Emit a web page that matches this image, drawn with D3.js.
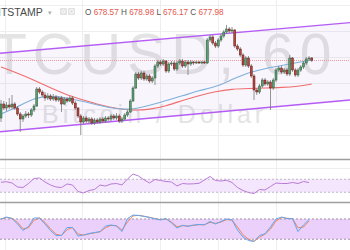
<!DOCTYPE html>
<html>
<head>
<meta charset="utf-8">
<script src="https://cdn.jsdelivr.net/npm/d3@7"></script>
<style>
  html, body { margin: 0; padding: 0; background: #fff; overflow: hidden; }
  svg { display: block; }
</style>
</head>
<body>
<div id="chart"></div>
<script>
// hourly candles, BTCUSD on Bitstamp
var opens = [672.2, 673.6, 673.2, 673.5, 673.3, 673.6, 673.2, 672.6, 672.1, 672.4, 672.6, 672.5, 673.0, 673.4, 675.1, 674.8, 674.5, 674.2, 674.4, 674.1, 674.3, 674.0, 674.2, 673.6, 674.1, 673.9, 674.2, 673.7, 673.2, 672.4, 671.8, 672.2, 671.9, 672.1, 671.7, 672.0, 671.8, 672.1, 671.9, 672.2, 672.1, 672.4, 672.2, 672.4, 671.9, 672.1, 672.5, 672.8, 673.9, 675.2, 676.6, 676.2, 676.7, 676.1, 676.4, 675.9, 676.2, 677.4, 677.8, 677.6, 677.9, 676.9, 677.6, 677.7, 677.1, 677.7, 677.9, 677.4, 677.8, 677.6, 677.8, 677.7, 677.8, 677.75, 677.8, 677.7, 680.0, 680.3, 679.7, 679.4, 680.0, 680.4, 680.8, 681.1, 680.9, 681.0, 679.4, 679.1, 678.5, 677.5, 678.2, 677.4, 676.4, 675.0, 674.8, 675.4, 676.0, 675.6, 675.8, 675.2, 676.0, 677.0, 677.2, 676.8, 677.0, 676.6, 678.2, 677.0, 676.5, 677.0, 677.3, 677.7, 678.1, 678.2]
var closes = [673.6, 673.2, 673.5, 673.3, 673.6, 673.2, 672.6, 672.1, 672.4, 672.6, 672.5, 673.0, 673.4, 675.1, 674.8, 674.5, 674.2, 674.4, 674.1, 674.3, 674.0, 674.2, 673.6, 674.1, 673.9, 674.2, 673.7, 673.2, 672.4, 671.8, 672.2, 671.9, 672.1, 671.7, 672.0, 671.8, 672.1, 671.9, 672.2, 672.1, 672.4, 672.2, 672.4, 671.9, 672.1, 672.5, 672.8, 673.9, 675.2, 676.6, 676.2, 676.7, 676.1, 676.4, 675.9, 676.2, 677.4, 677.8, 677.6, 677.9, 676.9, 677.6, 677.7, 677.1, 677.7, 677.9, 677.4, 677.8, 677.6, 677.8, 677.7, 677.8, 677.75, 677.8, 677.7, 680.0, 680.3, 679.7, 679.4, 680.0, 680.4, 680.8, 681.1, 680.9, 681.0, 679.4, 679.1, 678.5, 677.5, 678.2, 677.4, 676.4, 675.0, 674.8, 675.4, 676.0, 675.6, 675.8, 675.2, 676.0, 677.0, 677.2, 676.8, 677.0, 676.6, 678.2, 677.0, 676.5, 677.0, 677.3, 677.7, 678.1, 678.2, 677.98]
var highs = [674.0, 673.9, 673.8, 674.2, 674.5, 673.8, 673.4, 672.8, 672.6, 672.9, 672.8, 673.2, 673.6, 675.3, 675.3, 675.0, 674.8, 674.7, 674.6, 674.6, 674.5, 674.4, 674.4, 674.3, 674.3, 674.4, 674.4, 673.9, 673.3, 672.6, 672.4, 672.4, 672.3, 672.3, 672.2, 672.2, 672.3, 672.3, 672.4, 672.4, 672.6, 672.6, 672.7, 672.6, 672.3, 672.7, 673.0, 674.1, 675.4, 676.8, 676.8, 676.9, 676.9, 676.6, 676.6, 676.4, 677.6, 678.0, 678.0, 678.1, 678.0, 677.8, 677.9, 677.9, 677.9, 678.1, 678.1, 678.0, 678.0, 678.0, 677.9, 677.9, 677.9, 677.9, 677.9, 680.2, 680.5, 680.5, 679.9, 680.2, 680.6, 681.0, 681.5, 681.3, 681.3, 681.1, 679.6, 679.3, 678.7, 678.4, 678.4, 677.6, 676.6, 675.2, 675.6, 676.2, 676.2, 676.0, 676.0, 676.2, 677.2, 677.4, 677.4, 677.2, 677.2, 678.5, 678.3, 677.2, 677.2, 677.5, 677.9, 678.3, 678.4, 678.3]
var lows = [671.8, 673.0, 672.9, 673.1, 673.1, 673.0, 672.4, 670.8, 671.8, 672.2, 672.2, 672.3, 672.8, 673.3, 674.6, 674.3, 673.9, 674.0, 673.9, 673.9, 673.8, 673.8, 672.8, 673.5, 673.7, 673.8, 673.5, 673.0, 672.2, 670.5, 671.6, 671.7, 671.7, 671.5, 671.5, 671.6, 671.6, 671.7, 671.7, 671.9, 671.9, 672.0, 672.0, 671.7, 671.7, 672.0, 672.3, 672.7, 673.8, 675.1, 676.0, 676.0, 675.9, 675.9, 675.7, 675.7, 675.5, 677.2, 677.4, 677.4, 676.7, 676.7, 677.4, 676.9, 676.9, 677.5, 677.2, 677.2, 676.5, 677.4, 677.5, 677.6, 677.6, 677.6, 677.6, 677.6, 679.8, 679.5, 679.2, 679.2, 679.8, 680.2, 680.6, 680.7, 680.7, 679.2, 678.9, 678.3, 677.3, 677.3, 677.2, 676.2, 674.0, 674.5, 674.6, 675.2, 675.4, 675.4, 673.0, 675.0, 675.8, 676.8, 676.6, 676.6, 676.4, 676.4, 676.8, 676.3, 676.3, 676.8, 677.1, 677.5, 677.9, 677.8]

// moving averages, read every 6th candle
var maIdx = [0, 6, 12, 18, 24, 30, 36, 42, 48, 54, 60, 66, 72, 78, 84, 90, 96, 102, 108, 113]
var maSlow = [677.3, 676.7, 676.0, 675.2, 674.5, 674.0, 673.5, 673.15, 672.95, 673.05, 673.4, 673.95, 674.45, 674.85, 675.1, 675.15, 675.2, 675.25, 675.35, 675.6]
var maFast = [672.6, 673.3, 674.2, 674.45, 674.2, 673.85, 673.45, 673.1, 673.05, 673.45, 673.95, 674.4, 674.95, 675.3, 676.05, 676.75, 677.15, 677.45, 677.75, 678.0]

// trend channel: price at first and last candle
var channelUpper = [678.68, 681.4]
var channelLower = [670.84, 673.65]

// RSI and stochastic, every 2nd candle
var rsi = [60.6, 62.5, 58.5, 46.2, 44.6, 56.9, 72.3, 73.8, 61.5, 52.3, 46.2, 44.6, 55.4, 52.3, 32.3, 27.7, 35.4, 38.5, 52.3, 49.2, 55.4, 56.9, 52.3, 70.8, 86.2, 80, 68.3, 58.5, 69.2, 66.2, 63.1, 61.5, 49.2, 56.9, 55.4, 56, 57.5, 67.7, 78.5, 66.2, 64.6, 66.8, 60, 44.6, 35.4, 29.2, 26.2, 38.5, 36.9, 47.7, 58.5, 56.9, 56.9, 60, 56.9, 63.1, 60]
var stochK = [79.8, 85.7, 81.3, 65, 45.8, 57.6, 82.8, 82.8, 65, 45.8, 31, 31, 54.7, 54.7, 29.6, 32.5, 36.9, 39.9, 42.3, 59.1, 62.1, 59.1, 42.9, 81.3, 91.6, 90.2, 87.8, 84.2, 80.4, 76.9, 81.3, 68, 53.2, 61.2, 58.2, 62.1, 63.6, 62.7, 72.4, 65, 72.4, 79.8, 76.9, 47.3, 26.6, 16.3, 13.3, 31, 36.1, 56.2, 79.8, 85.7, 81.3, 80.7, 42.9, 62.1, 78.3]
var stochD = [80, 84, 82, 70, 51, 54, 76, 83, 70, 51, 35, 31, 48, 55, 36, 32, 36, 39, 42, 54, 61, 60, 47, 71, 89, 91, 88, 85, 81, 78, 80, 71, 57, 60, 59, 61, 63, 63, 70, 67, 71, 78, 77, 56, 33, 20, 14, 26, 35, 50, 74, 84, 82, 81, 54, 56, 74]

var timeGrid = [1.5, 29.5, 57.8, 78.9, 100]
var priceGrid = [683.5, 680.9, 678.3, 675.7, 673.1, 670.5]
var rsiBands = [70, 30]
var stochBands = [80, 20]

var ohlcLabels = ['O', 'H', 'L', 'C']
var ohlcValues = ['678.57', '678.98', '676.17', '677.98']

var width = 350
var height = 250

var svg = d3
  .select('#chart')
  .append('svg')
  .attr('width', width)
  .attr('height', height)
  .style('font-family', 'Liberation Sans, Arial, sans-serif')

var last = closes.length - 1

var x = d3.scaleLinear().domain([0, last]).range([1, 311.75])
var y = d3.scaleLinear().domain([668.1, 684]).range([159, 0])
var yRsi = d3.scaleLinear().domain([0, 100]).range([202, 169.5])
var yStoch = d3.scaleLinear().domain([0, 100]).range([246, 212.2])

// grid
svg
  .selectAll('.vgrid')
  .data(timeGrid)
  .enter()
  .append('line')
  .attr('class', 'vgrid')
  .attr('x1', d => Math.round(x(d)) + 0.5)
  .attr('x2', d => Math.round(x(d)) + 0.5)
  .attr('y1', 0)
  .attr('y2', height)
  .attr('stroke', '#eeeeee')

svg
  .selectAll('.hgrid')
  .data(priceGrid)
  .enter()
  .append('line')
  .attr('class', 'hgrid')
  .attr('x1', 0)
  .attr('x2', width)
  .attr('y1', d => Math.round(y(d)) + 0.5)
  .attr('y2', d => Math.round(y(d)) + 0.5)
  .attr('stroke', '#eeeeee')

// watermark
svg
  .append('text')
  .attr('x', -52)
  .attr('y', 74)
  .attr('font-size', 57)
  .attr('letter-spacing', 6)
  .attr('fill', '#e4e4e4')
  .text('BTCUSD, 60')

svg
  .append('text')
  .attr('x', 42)
  .attr('y', 123)
  .attr('font-size', 25)
  .attr('letter-spacing', 4)
  .attr('fill', '#e4e4e4')
  .text('Bitcoin / Dollar')

// channel
function channelAt(a, i) {
  return a[0] + ((a[1] - a[0]) * i) / last
}
var iLeft = x.invert(0)
var iRight = x.invert(width)

var channelArea = d3
  .area()
  .x(d => x(d))
  .y0(d => y(channelLower.length && channelAt(channelLower, d)))
  .y1(d => y(channelAt(channelUpper, d)))

svg
  .append('path')
  .datum([iLeft, iRight])
  .attr('d', channelArea)
  .attr('fill', 'rgba(150, 120, 220, 0.07)')

;[channelUpper, channelLower].forEach(a => {
  svg
    .append('line')
    .attr('x1', x(iLeft))
    .attr('x2', x(iRight))
    .attr('y1', y(channelAt(a, iLeft)))
    .attr('y2', y(channelAt(a, iRight)))
    .attr('stroke', '#b45cf5')
    .attr('stroke-width', 1.4)
})

// last price line
svg
  .append('line')
  .attr('x1', 0)
  .attr('x2', width)
  .attr('y1', Math.round(y(closes[last])) + 0.5)
  .attr('y2', Math.round(y(closes[last])) + 0.5)
  .attr('stroke', '#ef9a9a')
  .attr('stroke-dasharray', '1,1')

// moving averages
var maLine = function(values) {
  return d3
    .line()
    .x((d, i) => x(maIdx[i]))
    .y(d => y(d))
    .curve(d3.curveBasis)(values)
}

svg
  .append('path')
  .attr('d', maLine(maSlow))
  .attr('fill', 'none')
  .attr('stroke', '#f06d6d')
  .attr('stroke-width', 1.1)

svg
  .append('path')
  .attr('d', maLine(maFast))
  .attr('fill', 'none')
  .attr('stroke', '#7fb0d8')
  .attr('stroke-width', 1.1)

// candles
var candles = closes.map((c, i) => ({ i: i, o: opens[i], h: highs[i], l: lows[i], c: c }))

svg
  .selectAll('.wick')
  .data(candles)
  .enter()
  .append('line')
  .attr('class', 'wick')
  .attr('x1', d => x(d.i))
  .attr('x2', d => x(d.i))
  .attr('y1', d => y(d.h))
  .attr('y2', d => y(d.l))
  .attr('stroke', '#7a7a7a')
  .attr('stroke-width', 0.8)

svg
  .selectAll('.body')
  .data(candles)
  .enter()
  .append('rect')
  .attr('class', 'body')
  .attr('x', d => x(d.i) - 1)
  .attr('width', 2)
  .attr('y', d => y(Math.max(d.o, d.c)))
  .attr('height', d => Math.max(1, Math.abs(y(d.o) - y(d.c))))
  .attr('fill', d => (d.c >= d.o ? '#5c9c70' : '#b0463e'))
  .attr('stroke', d => (d.c >= d.o ? '#2c5e3c' : '#6a1f18'))
  .attr('stroke-width', 0.5)

// panel separators
;[159.5, 202.5].forEach(v => {
  svg
    .append('line')
    .attr('x1', 0)
    .attr('x2', width)
    .attr('y1', v)
    .attr('y2', v)
    .attr('stroke', '#9e9e9e')
    .attr('stroke-width', 1.5)
})
svg
  .append('line')
  .attr('x1', 0)
  .attr('x2', width)
  .attr('y1', 168.5)
  .attr('y2', 168.5)
  .attr('stroke', '#eeeeee')

// RSI
svg
  .append('rect')
  .attr('x', 0)
  .attr('width', width)
  .attr('y', yRsi(rsiBands[0]))
  .attr('height', yRsi(rsiBands[1]) - yRsi(rsiBands[0]))
  .attr('fill', '#f4e6fc')

svg
  .selectAll('.rsi-band')
  .data(rsiBands)
  .enter()
  .append('line')
  .attr('class', 'rsi-band')
  .attr('x1', 0)
  .attr('x2', width)
  .attr('y1', d => yRsi(d))
  .attr('y2', d => yRsi(d))
  .attr('stroke', '#b0a8b8')
  .attr('stroke-dasharray', '2,2')
  .attr('stroke-width', 0.8)

svg
  .append('path')
  .datum(rsi)
  .attr(
    'd',
    d3
      .line()
      .x((d, i) => x(i * 2))
      .y(d => yRsi(d))
  )
  .attr('fill', 'none')
  .attr('stroke', '#b97bd6')
  .attr('stroke-width', 1)

// Stochastic
svg
  .append('rect')
  .attr('x', 0)
  .attr('width', width)
  .attr('y', yStoch(stochBands[0]))
  .attr('height', yStoch(stochBands[1]) - yStoch(stochBands[0]))
  .attr('fill', '#ead0fb')

svg
  .selectAll('.stoch-band')
  .data(stochBands)
  .enter()
  .append('line')
  .attr('class', 'stoch-band')
  .attr('x1', 0)
  .attr('x2', width)
  .attr('y1', d => yStoch(d))
  .attr('y2', d => yStoch(d))
  .attr('stroke', '#8a7f90')
  .attr('stroke-dasharray', '2,2')
  .attr('stroke-width', 0.8)

var stochLine = d3
  .line()
  .x((d, i) => x(i * 2))
  .y(d => yStoch(d))

svg
  .append('path')
  .datum(stochD)
  .attr('d', stochLine)
  .attr('fill', 'none')
  .attr('stroke', '#f2875a')
  .attr('stroke-width', 1)

svg
  .append('path')
  .datum(stochK)
  .attr('d', stochLine)
  .attr('fill', 'none')
  .attr('stroke', '#5ea6f2')
  .attr('stroke-width', 1)

// header
svg
  .append('text')
  .attr('x', -9)
  .attr('y', 16)
  .attr('font-size', 10.5)
  .attr('fill', '#4a4a4a')
  .text('BITSTAMP')

svg
  .append('text')
  .attr('x', 48)
  .attr('y', 15)
  .attr('font-size', 7)
  .attr('fill', '#b0b0b0')
  .text('▾')

;[60, 68].forEach((v, k) => {
  svg
    .append('rect')
    .attr('x', v)
    .attr('y', 8)
    .attr('width', 7)
    .attr('height', 7)
    .attr('rx', 1)
    .attr('fill', '#e2e2e2')
  svg
    .append('circle')
    .attr('cx', v + 3.5)
    .attr('cy', 11.5)
    .attr('r', k ? 2 : 1.6)
    .attr('fill', 'none')
    .attr('stroke', '#fff')
    .attr('stroke-width', 0.9)
})

var ohlcText = svg
  .append('text')
  .attr('x', 85)
  .attr('y', 15)
  .attr('font-size', 8.2)

ohlcLabels.forEach((lab, k) => {
  ohlcText
    .append('tspan')
    .attr('fill', '#555')
    .text((k ? ' ' : '') + lab + ' ')
  ohlcText
    .append('tspan')
    .attr('fill', '#e5574c')
    .text(ohlcValues[k])
})
</script>
</body>
</html>
